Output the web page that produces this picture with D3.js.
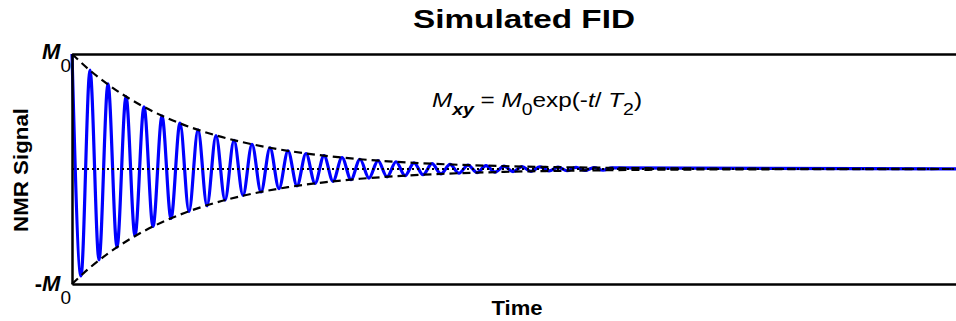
<!DOCTYPE html>
<html>
<head>
<meta charset="utf-8">
<script src="https://cdn.jsdelivr.net/npm/d3@7"></script>
<style>
  body { margin: 0; background: #fff; }
  svg { display: block; }
  text { font-family: "Liberation Sans", Arial, sans-serif; fill: #000; }
</style>
</head>
<body>
<div id="chart"></div>
<script>
// extrema of the simulated FID trace (time in cycles, signal in units of M0)
const peakTimes = [0, 0.5, 1, 1.5, 2, 2.5, 3, 3.5, 4, 4.5, 5, 5.5, 6, 6.5, 7, 7.5, 8, 8.5, 9, 9.5,
  10, 10.5, 11, 11.5, 12, 12.5, 13, 13.5, 14, 14.5, 15, 15.5, 16, 16.5, 17, 17.5, 18, 18.5, 19, 19.5,
  20, 20.5, 21, 21.5, 22, 22.5, 23, 23.5, 24, 24.5, 25, 25.5, 26, 26.5, 27, 27.5, 28, 28.5, 29, 29.5, 30, 50];
const peakValues = [1.00, -0.93, 0.86, -0.79, 0.74, -0.68, 0.63, -0.58, 0.54, -0.50, 0.46, -0.43, 0.40, -0.37, 0.34, -0.32, 0.29, -0.27, 0.25, -0.23,
  0.215, -0.20, 0.184, -0.17, 0.158, -0.146, 0.135, -0.125, 0.116, -0.107, 0.10, -0.092, 0.085, -0.079, 0.073, -0.068, 0.063, -0.058, 0.054, -0.050,
  0.046, -0.043, 0.040, -0.037, 0.034, -0.031, 0.029, -0.027, 0.025, -0.023, 0.021, -0.020, 0.018, -0.017, 0.016, -0.015, 0.014, -0.013, 0.012, -0.011, 0.010, 0];

// exponential envelope M0 exp(-t/T2)
const envTimes = [0, 1, 2, 3, 4, 5, 6, 8, 10, 12, 14, 16, 18, 20, 24, 28, 32, 40, 50];
const envValues = [1, 0.857, 0.735, 0.630, 0.540, 0.463, 0.397, 0.292, 0.215, 0.158, 0.116, 0.085, 0.063, 0.046, 0.025, 0.014, 0.007, 0.002, 0];

const timeDomain = [0, 50];
const signalDomain = [-1, 1];

var width = 956, height = 321;
var plot = {left: 72, right: 972, top: 54, bottom: 284};

var svg = d3.select("#chart").append("svg")
    .attr("width", width)
    .attr("height", height);

var x = d3.scaleLinear().domain(timeDomain).range([plot.left, plot.right]);
var y = d3.scaleLinear().domain(signalDomain).range([plot.bottom, plot.top]);

const trace = peakTimes.map((t, i) => ({t: t, v: peakValues[i]}));
const env = envTimes.map((t, i) => ({t: t, v: envValues[i]}));

// blue FID trace
svg.append("path")
    .datum(trace)
    .attr("fill", "none")
    .attr("stroke", "#0000ff")
    .attr("stroke-width", 3.2)
    .attr("d", d3.line().x(d => x(d.t)).y(d => y(d.v)).curve(d3.curveMonotoneX));

// zero line
svg.append("line")
    .attr("x1", x(0)).attr("x2", x(timeDomain[1]))
    .attr("y1", y(0)).attr("y2", y(0))
    .attr("stroke", "#000")
    .attr("stroke-width", 2)
    .attr("stroke-dasharray", "2,3");

// dashed envelopes, upper and lower
[1, -1].forEach(function(s) {
  svg.append("path")
      .datum(env)
      .attr("fill", "none")
      .attr("stroke", "#000")
      .attr("stroke-width", 2.2)
      .attr("stroke-dasharray", "8,5")
      .attr("d", d3.line().x(d => x(d.t)).y(d => y(s * d.v)).curve(d3.curveMonotoneX));
});

// frame: left, top and bottom
svg.append("g")
    .attr("transform", "translate(" + plot.left + ",0)")
    .call(d3.axisLeft(y).ticks(0).tickSizeOuter(0));
svg.append("g")
    .attr("transform", "translate(0," + plot.top + ")")
    .call(d3.axisTop(x).ticks(0).tickSizeOuter(0));
svg.append("g")
    .attr("transform", "translate(0," + plot.bottom + ")")
    .call(d3.axisBottom(x).ticks(0).tickSizeOuter(0));
svg.selectAll(".domain").attr("stroke", "#000").attr("stroke-width", 2.5);

// title
svg.append("text")
    .attr("x", 524).attr("y", 28)
    .attr("text-anchor", "middle")
    .attr("textLength", 222)
    .attr("lengthAdjust", "spacingAndGlyphs")
    .style("font-size", "26px").style("font-weight", "bold")
    .text("Simulated FID");

// axis labels
svg.append("text")
    .attr("x", 517).attr("y", 315)
    .attr("text-anchor", "middle")
    .attr("textLength", 51)
    .attr("lengthAdjust", "spacingAndGlyphs")
    .style("font-size", "21px").style("font-weight", "bold")
    .text("Time");
svg.append("text")
    .attr("transform", "translate(28,170) rotate(-90)")
    .attr("text-anchor", "middle")
    .attr("textLength", 124)
    .attr("lengthAdjust", "spacingAndGlyphs")
    .style("font-size", "20px").style("font-weight", "bold")
    .text("NMR Signal");

// M0 labels at the ends of the y axis
function m0Label(prefix, yBase) {
  var t = svg.append("text")
      .attr("x", 71).attr("y", yBase)
      .attr("text-anchor", "end")
      .style("font-size", "22px");
  if (prefix) t.append("tspan").style("font-weight", "bold").text(prefix);
  t.append("tspan").style("font-style", "italic").style("font-weight", "bold").text("M");
  t.append("tspan").attr("dy", 13).style("font-size", "19px").text("0");
}
m0Label("", 59);
m0Label("-", 291);

// formula
var f = svg.append("text")
    .attr("x", 432).attr("y", 107)
    .attr("textLength", 210)
    .attr("lengthAdjust", "spacingAndGlyphs")
    .style("font-size", "20px");
f.append("tspan").style("font-style", "italic").text("M");
f.append("tspan").attr("dy", 8).style("font-size", "16px").style("font-style", "italic").style("font-weight", "bold").text("xy");
f.append("tspan").attr("dy", -8).text(" = ");
f.append("tspan").style("font-style", "italic").text("M");
f.append("tspan").attr("dy", 8).style("font-size", "16px").text("0");
f.append("tspan").attr("dy", -8).text("exp(-");
f.append("tspan").style("font-style", "italic").text("t");
f.append("tspan").text("/ ");
f.append("tspan").style("font-style", "italic").text("T");
f.append("tspan").attr("dy", 8).style("font-size", "16px").text("2");
f.append("tspan").attr("dy", -8).text(")");
</script>
</body>
</html>
